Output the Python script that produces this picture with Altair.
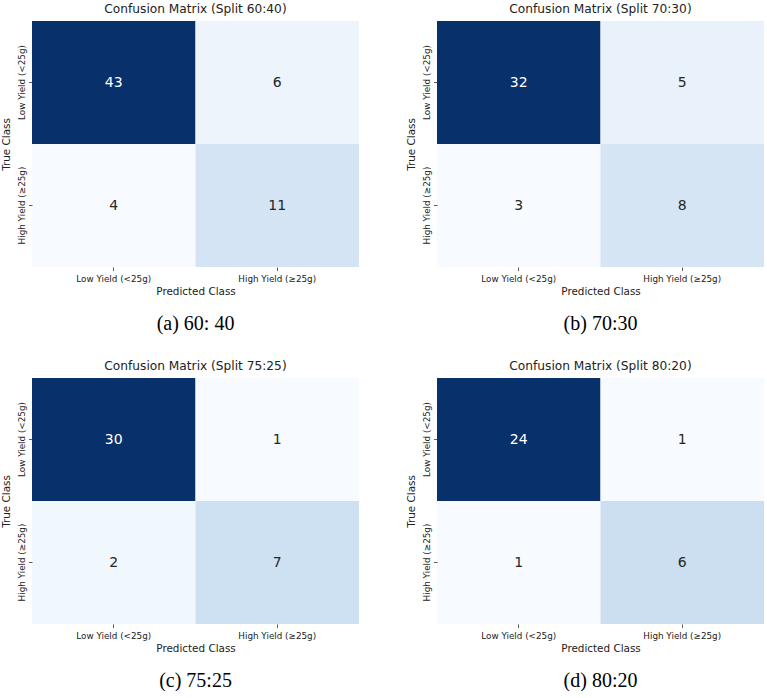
import altair as alt
import numpy as np
import pandas as pd

# Confusion matrices for four train/test splits
split_names = ["60:40", "70:30", "75:25", "80:20"]
captions = ["(a) 60: 40", "(b) 70:30", "(c) 75:25", "(d) 80:20"]
classes = ["Low Yield (<25g)", "High Yield (\u226525g)"]

true_low_pred_low = [43, 32, 30, 24]
true_low_pred_high = [6, 5, 1, 1]
true_high_pred_low = [4, 3, 2, 1]
true_high_pred_high = [11, 8, 7, 6]

# matplotlib "Blues" anchor colours
blues = ["#f7fbff", "#deebf7", "#c6dbef", "#9ecae1", "#6baed6",
         "#4292c6", "#2171b5", "#08519c", "#08306b"]

W, H = 327, 246
FONT = "DejaVu Sans"


def panel(i):
    vals = [true_low_pred_low[i], true_low_pred_high[i],
            true_high_pred_low[i], true_high_pred_high[i]]
    df = pd.DataFrame({
        "true": [classes[0], classes[0], classes[1], classes[1]],
        "pred": [classes[0], classes[1], classes[0], classes[1]],
        "count": vals,
    })
    lo, hi = min(vals), max(vals)
    domain = list(np.linspace(lo, hi, len(blues)))

    base = alt.Chart(df).encode(
        x=alt.X("pred:N", sort=classes, title="Predicted Class",
                axis=alt.Axis(labelAngle=0, labelFontSize=8.8, labelPadding=4,
                              tickSize=3.5, tickColor="#333", tickWidth=0.8,
                              domain=False, titleFontSize=10.4,
                              titleFontWeight="normal", titlePadding=3,
                              labelColor="#222", titleColor="#222",
                              labelFont=FONT, titleFont=FONT)),
        y=alt.Y("true:N", sort=classes, title="True Class",
                axis=alt.Axis(labelAngle=270, labelAlign="center",
                              labelBaseline="bottom", labelFontSize=8.8,
                              labelPadding=2, tickSize=3.5, tickColor="#333",
                              tickWidth=0.8, domain=False, titleFontSize=10.4,
                              titleFontWeight="normal", titlePadding=6,
                              labelColor="#222", titleColor="#222",
                              labelFont=FONT, titleFont=FONT)),
    )
    rect = base.mark_rect(stroke=None).encode(
        color=alt.Color("count:Q",
                        scale=alt.Scale(domain=domain, range=blues,
                                        interpolate="rgb"),
                        legend=None)
    )
    text = base.transform_joinaggregate(
        lo="min(count)", hi="max(count)"
    ).transform_calculate(
        norm="(datum.count - datum.lo) / (datum.hi - datum.lo)"
    ).mark_text(font=FONT, fontSize=14).encode(
        text="count:Q",
        color=alt.condition("datum.norm > 0.6", alt.value("white"),
                            alt.value("#262626")),
    )
    cap = alt.Chart(pd.DataFrame({"c": [captions[i]]})).mark_text(
        font="Liberation Serif", fontSize=20, baseline="middle",
        color="black"
    ).encode(text="c:N", x=alt.value(W / 2), y=alt.value(H + 57))

    return alt.layer(rect, text, cap).resolve_scale(
        color="independent"
    ).properties(
        width=W, height=H,
        title=alt.TitleParams(f"Confusion Matrix (Split {split_names[i]})",
                              font=FONT, fontSize=12.2, fontWeight="normal",
                              color="#222", offset=6),
    )


top = alt.hconcat(panel(0), panel(1), spacing=47).resolve_scale(
    color="independent")
bottom = alt.hconcat(panel(2), panel(3), spacing=47).resolve_scale(
    color="independent")

chart = alt.vconcat(top, bottom, spacing=25).resolve_scale(
    color="independent"
).properties(
    padding={"left": 1, "top": 2, "right": 0, "bottom": 0},
    background="white",
).configure_view(stroke=None)

chart.save("out.html", embed_options={"renderer": "svg", "actions": False})
